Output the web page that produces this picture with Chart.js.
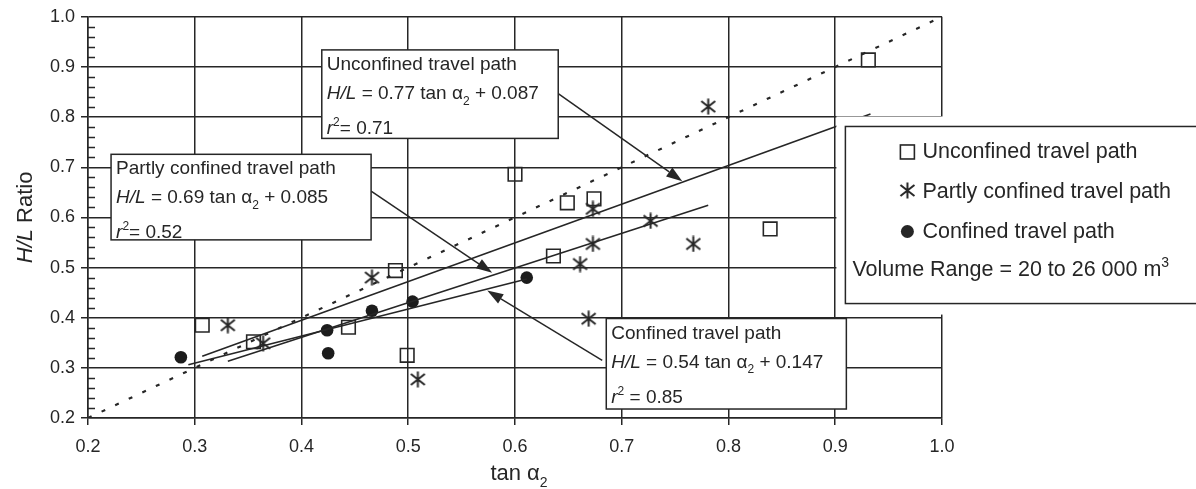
<!DOCTYPE html>
<html>
<head>
<meta charset="utf-8">
<script src="https://cdn.jsdelivr.net/npm/chart.js@4"></script>
<style>
  html, body { margin: 0; padding: 0; background: #fff; }
  canvas { display: block; }
</style>
</head>
<body>
<canvas id="hlChart" width="1196" height="489"></canvas>
<script>
// data (x = tan a2, y = H/L)
var unconfinedX = [0.307, 0.355, 0.444, 0.488, 0.499, 0.600, 0.636, 0.649, 0.674, 0.839, 0.931];
var unconfinedY = [0.385, 0.352, 0.381, 0.494, 0.325, 0.686, 0.523, 0.629, 0.637, 0.577, 0.914];

var partlyX = [0.331, 0.364, 0.466, 0.509, 0.661, 0.669, 0.673, 0.673, 0.727, 0.767, 0.781];
var partlyY = [0.385, 0.349, 0.480, 0.277, 0.507, 0.398, 0.547, 0.617, 0.593, 0.547, 0.821];

var confinedX = [0.287, 0.424, 0.425, 0.466, 0.504, 0.611];
var confinedY = [0.321, 0.375, 0.329, 0.414, 0.432, 0.480];

// fitted lines, end points
var fitUnconfinedX = [0.307, 0.933];
var fitUnconfinedY = [0.323, 0.806];
var fitPartlyX = [0.331, 0.781];
var fitPartlyY = [0.313, 0.624];
var fitConfinedX = [0.294, 0.611];
var fitConfinedY = [0.306, 0.477];
var equalX = [0.2, 1.0];
var equalY = [0.2, 1.0];

var tickValues = [0.2, 0.3, 0.4, 0.5, 0.6, 0.7, 0.8, 0.9, 1.0];

var FONT = '"Liberation Sans", Arial, Helvetica, sans-serif';
var INK = '#262626';

function pts(xs, ys) {
    return xs.map(function (x, i) { return { x: x, y: ys[i] }; });
}

// asterisk marker (6 arms)
function makeAsterisk(size) {
    var c = document.createElement('canvas');
    c.width = size; c.height = size;
    var g = c.getContext('2d');
    g.strokeStyle = INK;
    g.lineWidth = 2;
    g.beginPath();
    g.moveTo(size / 2, 0.5); g.lineTo(size / 2, size - 0.5);
    g.moveTo(1.5, 3); g.lineTo(size - 1.5, size - 3);
    g.moveTo(size - 1.5, 3); g.lineTo(1.5, size - 3);
    g.stroke();
    return c;
}
var asterisk = makeAsterisk(17);

// text with italic / sub / sup parts
function partFont(p, size) {
    var s = (p.sub || p.sup) ? Math.round(size * 0.65) : size;
    return (p.i ? 'italic ' : '') + s + 'px ' + FONT;
}
function richWidth(ctx, parts, size) {
    var w = 0;
    parts.forEach(function (p) { ctx.font = partFont(p, size); w += ctx.measureText(p.t).width; });
    return w;
}
function richText(ctx, x, y, parts, size) {
    ctx.textAlign = 'left';
    ctx.textBaseline = 'alphabetic';
    parts.forEach(function (p) {
        ctx.font = partFont(p, size);
        var dy = p.sub ? size * 0.3 : (p.sup ? -size * 0.42 : 0);
        ctx.fillText(p.t, x, y + dy);
        x += ctx.measureText(p.t).width;
    });
}

var boxes = [
    { x0: 0.419, y0: 0.934, x1: 0.6405, y1: 0.7575, lines: [
        [{ t: 'Unconfined travel path' }],
        [{ t: 'H/L', i: 1 }, { t: ' = 0.77 tan \u03b1' }, { t: '2', sub: 1 }, { t: ' + 0.087' }],
        [{ t: 'r', i: 1 }, { t: '2', sup: 1 }, { t: '= 0.71' }]
    ]},
    { x0: 0.2216, y0: 0.7258, x1: 0.4652, y1: 0.5552, lines: [
        [{ t: 'Partly confined travel path' }],
        [{ t: 'H/L', i: 1 }, { t: ' = 0.69 tan \u03b1' }, { t: '2', sub: 1 }, { t: ' + 0.085' }],
        [{ t: 'r', i: 1 }, { t: '2', sup: 1 }, { t: '= 0.52' }]
    ]},
    { x0: 0.6855, y0: 0.3984, x1: 0.9104, y1: 0.2179, lines: [
        [{ t: 'Confined travel path' }],
        [{ t: 'H/L', i: 1 }, { t: ' = 0.54 tan \u03b1' }, { t: '2', sub: 1 }, { t: ' + 0.147' }],
        [{ t: 'r', i: 1 }, { t: '2', sup: 1 }, { t: ' = 0.85' }]
    ]}
];

var arrows = [
    { from: [0.6405, 0.8468], to: [0.7567, 0.6722] },
    { from: [0.4652, 0.6524], to: [0.5786, 0.4897] },
    { from: [0.6817, 0.3151], to: [0.574, 0.454] }
];

function drawArrow(ctx, x0, y0, x1, y1) {
    var a = Math.atan2(y1 - y0, x1 - x0), len = 16, hw = 5.5;
    var bx = x1 - len * Math.cos(a), by = y1 - len * Math.sin(a);
    ctx.beginPath();
    ctx.moveTo(x0, y0); ctx.lineTo(bx, by);
    ctx.stroke();
    ctx.beginPath();
    ctx.moveTo(x1, y1);
    ctx.lineTo(bx + hw * Math.sin(a), by - hw * Math.cos(a));
    ctx.lineTo(bx - hw * Math.sin(a), by + hw * Math.cos(a));
    ctx.closePath();
    ctx.fill();
}

var annotations = {
    id: 'annotations',
    afterDatasetsDraw: function (chart) {
        var ctx = chart.ctx, xs = chart.scales.x, ys = chart.scales.y;
        var X = function (v) { return xs.getPixelForValue(v); };
        var Y = function (v) { return ys.getPixelForValue(v); };
        ctx.save();
        ctx.strokeStyle = INK;
        ctx.fillStyle = INK;
        ctx.lineWidth = 1.5;

        arrows.forEach(function (a) {
            drawArrow(ctx, X(a.from[0]), Y(a.from[1]), X(a.to[0]), Y(a.to[1]));
        });

        boxes.forEach(function (b) {
            var l = X(b.x0), t = Y(b.y0), r = X(b.x1), btm = Y(b.y1);
            ctx.fillStyle = '#fff';
            ctx.fillRect(l, t, r - l, btm - t);
            ctx.strokeRect(l, t, r - l, btm - t);
            ctx.fillStyle = INK;
            var offs = [20, 49, 84];
            b.lines.forEach(function (ln, k) { richText(ctx, l + 5, t + offs[k], ln, 19); });
        });

        // legend box, white margin hides grid behind it
        var lx = X(0.9095), ly = Y(0.7813), lb = Y(0.4282);
        ctx.fillStyle = '#fff';
        ctx.fillRect(lx - 9, ly - 10, chart.width - lx + 9, lb - ly + 21);
        ctx.strokeRect(lx, ly, chart.width - lx + 5, lb - ly);
        ctx.fillStyle = INK;
        var mx = lx + 62;
        ctx.lineWidth = 1.6;
        ctx.strokeRect(mx - 7, ly + 18.5, 14, 14);
        ctx.drawImage(asterisk, mx - 8.5, ly + 55.5);
        ctx.beginPath(); ctx.arc(mx, ly + 105, 6.5, 0, Math.PI * 2); ctx.fill();
        richText(ctx, lx + 77, ly + 32, [{ t: 'Unconfined travel path' }], 21.5);
        richText(ctx, lx + 77, ly + 72, [{ t: 'Partly confined travel path' }], 21.5);
        richText(ctx, lx + 77, ly + 112, [{ t: 'Confined travel path' }], 21.5);
        richText(ctx, lx + 7, ly + 150, [{ t: 'Volume Range = 20 to 26 000 m' }, { t: '3', sup: 1 }], 21.5);
        ctx.restore();
    },
    afterDraw: function (chart) {
        var ctx = chart.ctx, ys = chart.scales.y, area = chart.chartArea;
        ctx.save();
        ctx.strokeStyle = INK;
        ctx.fillStyle = INK;
        ctx.lineWidth = 1.3;
        // minor ticks on the y axis, inside the plot
        ctx.beginPath();
        for (var i = 1; i < 40; i++) {
            if (i % 5 === 0) continue;
            var py = Math.round(ys.getPixelForValue(0.2 + i * 0.02)) + 0.5;
            ctx.moveTo(area.left, py); ctx.lineTo(area.left + 7, py);
        }
        ctx.stroke();

        // axis titles
        var xt = [{ t: 'tan \u03b1' }, { t: '2', sub: 1 }];
        var w = richWidth(ctx, xt, 22);
        richText(ctx, (area.left + area.right) / 2 + 4 - w / 2, 480, xt, 22);

        var yt = [{ t: 'H/L', i: 1 }, { t: ' Ratio' }];
        w = richWidth(ctx, yt, 22);
        ctx.translate(32, (area.top + area.bottom) / 2);
        ctx.rotate(-Math.PI / 2);
        richText(ctx, -w / 2, 0, yt, 22);
        ctx.restore();
    }
};

var lineStyle = { showLine: true, pointRadius: 0, borderColor: INK, borderWidth: 1.6, fill: false };

var ctx = document.getElementById('hlChart').getContext('2d');
var hlChart = new Chart(ctx, {
    type: 'scatter',
    data: {
        datasets: [
            Object.assign({ label: '1:1', data: pts(equalX, equalY) }, lineStyle, { borderWidth: 2.2, borderDash: [4, 11] }),
            Object.assign({ label: 'Unconfined fit', data: pts(fitUnconfinedX, fitUnconfinedY) }, lineStyle),
            Object.assign({ label: 'Partly confined fit', data: pts(fitPartlyX, fitPartlyY) }, lineStyle),
            Object.assign({ label: 'Confined fit', data: pts(fitConfinedX, fitConfinedY) }, lineStyle),
            {
                label: 'Unconfined travel path', data: pts(unconfinedX, unconfinedY),
                pointStyle: 'rect', pointRadius: 9.6, borderColor: INK, borderWidth: 1.6, backgroundColor: 'rgba(255,255,255,0)'
            },
            {
                label: 'Partly confined travel path', data: pts(partlyX, partlyY),
                pointStyle: asterisk, pointRadius: 8
            },
            {
                label: 'Confined travel path', data: pts(confinedX, confinedY),
                pointStyle: 'circle', pointRadius: 6.3, borderWidth: 0, backgroundColor: '#1c1c1c'
            }
        ]
    },
    options: {
        responsive: false,
        animation: false,
        devicePixelRatio: 1,
        layout: { padding: { left: 0, right: 254, top: 15, bottom: 0 } },
        plugins: { legend: { display: false }, tooltip: { enabled: false } },
        scales: {
            x: {
                type: 'linear', min: 0.2, max: 1.0,
                afterBuildTicks: function (s) { s.ticks = tickValues.map(function (v) { return { value: v }; }); },
                afterFit: function (s) { s.height = 71; },
                ticks: { callback: function (v) { return v.toFixed(1); }, color: INK, padding: 11, maxRotation: 0,
                    font: { family: FONT, size: 18 } },
                grid: { color: INK, lineWidth: 1.5, tickLength: 7 },
                border: { color: INK, width: 1.5 }
            },
            y: {
                type: 'linear', min: 0.2, max: 1.0,
                afterBuildTicks: function (s) { s.ticks = tickValues.map(function (v) { return { value: v }; }); },
                afterFit: function (s) { s.width = 88; },
                ticks: { callback: function (v) { return v.toFixed(1); }, color: INK, padding: 6,
                    font: { family: FONT, size: 18 } },
                grid: { color: INK, lineWidth: 1.5, tickLength: 7 },
                border: { color: INK, width: 1.5 }
            }
        }
    },
    plugins: [annotations]
});
</script>
</body>
</html>
